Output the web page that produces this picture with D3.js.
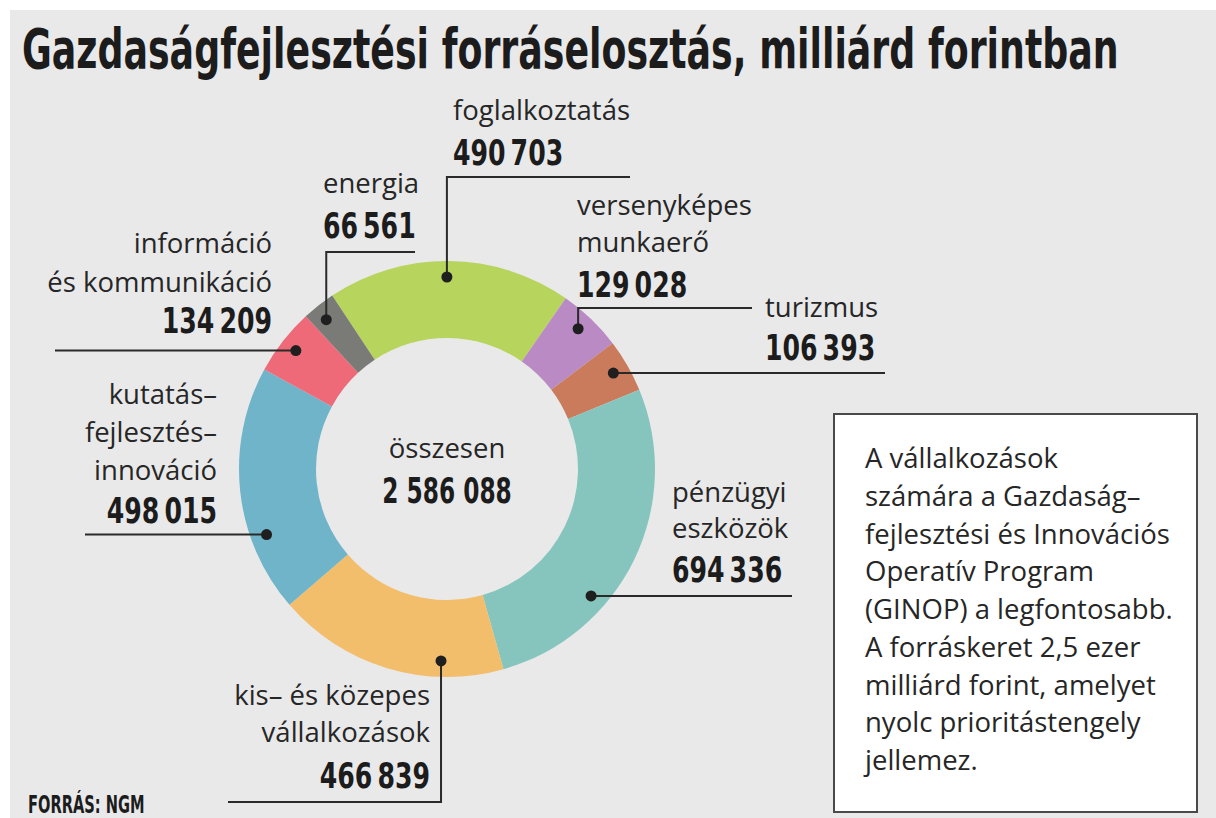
<!DOCTYPE html>
<html>
<head>
<meta charset="utf-8">
<script src="https://cdn.jsdelivr.net/npm/d3@7"></script>
<style>
  body { margin: 0; background: #fff; }
  svg { display: block; }
</style>
</head>
<body>
<div id="chart"></div>
<script>
// values (milliárd forint)
const categories = [
  "foglalkoztatás",
  "versenyképes munkaerő",
  "turizmus",
  "pénzügyi eszközök",
  "kis- és közepes vállalkozások",
  "kutatás-fejlesztés-innováció",
  "információ és kommunikáció",
  "energia",
];
const values = [490703, 129028, 106393, 694336, 466839, 498015, 134209, 66561];
const total = 2586088;
const colors = ["#b7d45c", "#b98ac4", "#c97b5c", "#86c5bd", "#f3be6c", "#6fb4c9", "#ef6a79", "#7a7a77"];

// label text lines for each category
const labelLines = [
  ["foglalkoztatás"],
  ["versenyképes", "munkaerő"],
  ["turizmus"],
  ["pénzügyi", "eszközök"],
  ["kis– és közepes", "vállalkozások"],
  ["kutatás–", "fejlesztés–", "innováció"],
  ["információ", "és kommunikáció"],
  ["energia"],
];

const boxLines = [
  "A vállalkozások",
  "számára a Gazdaság–",
  "fejlesztési és Innovációs",
  "Operatív Program",
  "(GINOP) a legfontosabb.",
  "A forráskeret 2,5 ezer",
  "milliárd forint, amelyet",
  "nyolc prioritástengely",
  "jellemez.",
];

const width = 1216;
const height = 818;
const cx = 447, cy = 469;
const outerR = 208, innerR = 131, dotR = 192;
const startDeg = -33.5;

// annotation layout: where along each slice the dot sits, and where the text goes
const layout = [
  { frac: 0.49, x: 453, anchor: "start", ys: [120], numY: 165, elbowY: 177, endX: 630 },
  { frac: 0.46, x: 577, anchor: "start", ys: [215, 252], numY: 297, elbowY: 308, endX: 752 },
  { frac: 0.49, x: 765, anchor: "start", ys: [317], numY: 360, elbowY: null, endX: 885 },
  { frac: 0.66, x: 672, anchor: "start", ys: [502, 538], numY: 582, elbowY: null, endX: 792 },
  { frac: 0.27, x: 430, anchor: "end", ys: [705, 742], numY: 788, elbowY: 802, endX: 228 },
  { frac: 0.30, x: 217, anchor: "end", ys: [404, 442, 480], numY: 523, elbowY: null, endX: 85 },
  { frac: 0.51, x: 272, anchor: "end", ys: [253, 292], numY: 333, elbowY: null, endX: 55 },
  { frac: 0.41, x: 323, anchor: "start", ys: [193], numY: 238, elbowY: 252, endX: 415 },
];

const regularFont = "'Open Sans', sans-serif";
const boldFont = "'DejaVu Sans Condensed', 'DejaVu Sans', sans-serif";
const textColor = "#262626";
const labelSize = 27.5;

const fmt = d3.formatLocale({ decimal: ",", thousands: "\u2009", grouping: [3] }).format(",d");
const fmtTotal = d3.formatLocale({ decimal: ",", thousands: " ", grouping: [3] }).format(",d");

const svg = d3.select("#chart").append("svg")
  .attr("width", width)
  .attr("height", height);

svg.append("rect")
  .attr("x", 10).attr("y", 10)
  .attr("width", width - 10).attr("height", height - 10)
  .attr("fill", "#e9e9ea");

// condensed bold text: squeeze horizontally
function boldText(parent, x, y, anchor, str, size, sx) {
  return parent.append("g")
    .attr("transform", `translate(${x},${y}) scale(${sx},1)`)
    .append("text")
    .attr("text-anchor", anchor)
    .attr("font-family", boldFont)
    .attr("font-weight", 700)
    .attr("font-size", size)
    .attr("fill", "#1c1c1c")
    .text(str);
}

// title, fitted to the reference width
const title = boldText(svg, 22, 68, "start", "Gazdaságfejlesztési forráselosztás, milliárd forintban", 56, 1);
const titleW = title.node().getComputedTextLength();
d3.select(title.node().parentNode).attr("transform", `translate(22,68) scale(${1097 / titleW},1)`);

const pie = d3.pie().sort(null)
  .startAngle(startDeg * Math.PI / 180)
  .endAngle(startDeg * Math.PI / 180 + 2 * Math.PI);
const arcs = pie(values);
const arc = d3.arc().innerRadius(innerR).outerRadius(outerR);

const g = svg.append("g").attr("transform", `translate(${cx},${cy})`);
g.selectAll("path")
  .data(arcs)
  .enter()
  .append("path")
  .attr("d", arc)
  .attr("fill", (d, i) => colors[i]);

// center text
svg.append("text")
  .attr("x", cx).attr("y", 458)
  .attr("text-anchor", "middle")
  .attr("font-family", regularFont)
  .attr("font-size", labelSize)
  .attr("fill", textColor)
  .text("összesen");
boldText(svg, cx, 503, "middle", fmtTotal(total), 35, 0.74);

// annotations
const ann = svg.append("g");
arcs.forEach((d, i) => {
  const L = layout[i];
  const a = d.startAngle + (d.endAngle - d.startAngle) * L.frac;
  const dx = cx + dotR * Math.sin(a);
  const dy = cy - dotR * Math.cos(a);

  let p = d3.path();
  p.moveTo(dx, dy);
  if (L.elbowY != null) {
    p.lineTo(dx, L.elbowY);
    p.lineTo(L.endX, L.elbowY);
  } else {
    p.lineTo(L.endX, dy);
  }
  ann.append("path")
    .attr("d", p.toString())
    .attr("fill", "none")
    .attr("stroke", "#2a2a2a")
    .attr("stroke-width", 2);

  ann.append("circle")
    .attr("cx", dx).attr("cy", dy)
    .attr("r", 5.5)
    .attr("fill", "#1f1f1f");

  labelLines[i].forEach((t, j) => {
    ann.append("text")
      .attr("x", L.x).attr("y", L.ys[j])
      .attr("text-anchor", L.anchor)
      .attr("font-family", regularFont)
      .attr("font-size", labelSize)
      .attr("fill", textColor)
      .text(t);
  });

  boldText(ann, L.x, L.numY, L.anchor, fmt(values[i]), 35, 0.8);
});

// text box
svg.append("rect")
  .attr("x", 834).attr("y", 414)
  .attr("width", 363).attr("height", 398)
  .attr("fill", "#fff")
  .attr("stroke", "#4a4a4a")
  .attr("stroke-width", 2);

svg.append("g").selectAll("text")
  .data(boxLines)
  .enter()
  .append("text")
  .attr("x", 865)
  .attr("y", (d, i) => 468 + i * 37.75)
  .attr("font-family", regularFont)
  .attr("font-size", 27.5)
  .attr("fill", textColor)
  .text((d) => d);

// source
boldText(svg, 28, 813, "start", "FORRÁS: NGM", 25, 0.65);
</script>
</body>
</html>
